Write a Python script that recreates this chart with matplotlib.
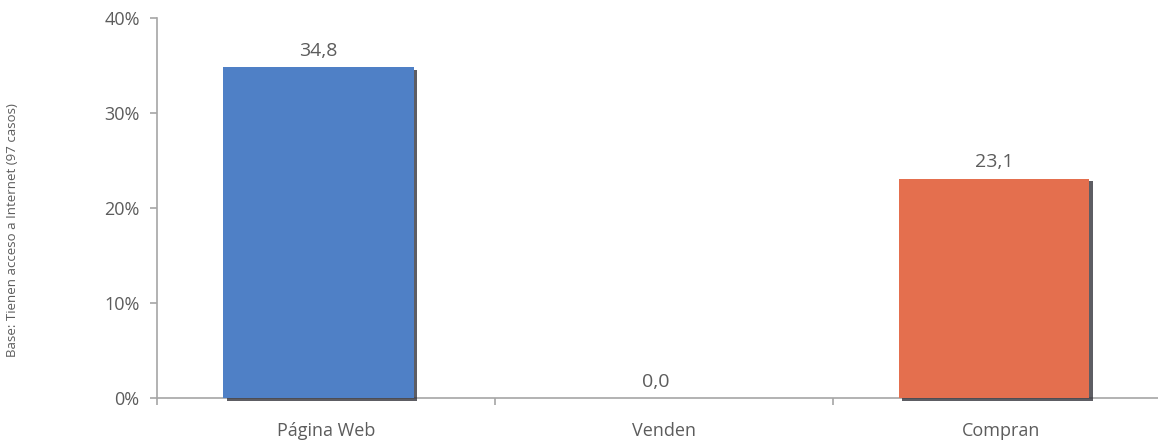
import matplotlib
matplotlib.use("Agg")
import matplotlib.pyplot as plt
import matplotlib.patheffects as pe
from matplotlib.ticker import FixedLocator, FuncFormatter

categories = ["Página Web", "Venden", "Compran"]
values = [34.8, 0.0, 23.1]
bar_colors = ["#4f80c6", "#4f80c6", "#e46f4e"]
y_ticks = [0, 10, 20, 30, 40]

plt.rcParams["font.family"] = ["Open Sans", "DejaVu Sans"]
text_color = "#5c5c5c"
axis_color = "#a6a6a6"

fig = plt.figure(figsize=(11.58, 4.40), dpi=100)
ax = fig.add_axes([0.1356, 0.0955, 0.8750, 0.8636])

x = list(range(len(categories)))
bar_x = [i - 0.022 for i in x]
bars = ax.bar(bar_x, values, width=0.565, color=bar_colors, edgecolor="none", zorder=3)
for b, v in zip(bars, values):
    if v > 0:
        b.set_clip_on(False)
        b.set_path_effects([
            pe.SimplePatchShadow(offset=(2.5, -2.0), shadow_rgbFace="#34343c", alpha=0.8),
            pe.Normal(),
        ])
    ax.annotate(f"{v:.1f}".replace(".", ","), (b.get_x() + b.get_width() / 2, v),
                xytext=(0, 8), textcoords="offset points", ha="center", va="baseline",
                fontsize=14, color=text_color)

ax.set_xlim(-0.5, 2.5)
ax.set_ylim(0, 40)
ax.yaxis.set_major_locator(FixedLocator(y_ticks))
ax.yaxis.set_major_formatter(FuncFormatter(lambda v, _: f"{v:.0f}%"))
ax.set_xticks(x)
ax.set_xticklabels(categories)
ax.xaxis.set_minor_locator(FixedLocator([-0.5, 0.5, 1.5, 2.5]))

ax.tick_params(axis="x", which="major", length=0, pad=17, labelsize=13, labelcolor=text_color)
ax.tick_params(axis="x", which="minor", length=5, width=1.2, color=axis_color, direction="out")
ax.tick_params(axis="y", length=5, width=1.2, color=axis_color, pad=7.5, labelsize=13,
               labelcolor=text_color)

for side in ("top", "right"):
    ax.spines[side].set_visible(False)
for side in ("left", "bottom"):
    ax.spines[side].set_color(axis_color)
    ax.spines[side].set_linewidth(1.2)

fig.text(0.0112, 0.477, "Base: Tienen acceso a Internet (97 casos)", rotation=90,
         ha="center", va="center", fontsize=9.5, color=text_color)

fig.savefig("out.png", dpi=100, facecolor="white")
